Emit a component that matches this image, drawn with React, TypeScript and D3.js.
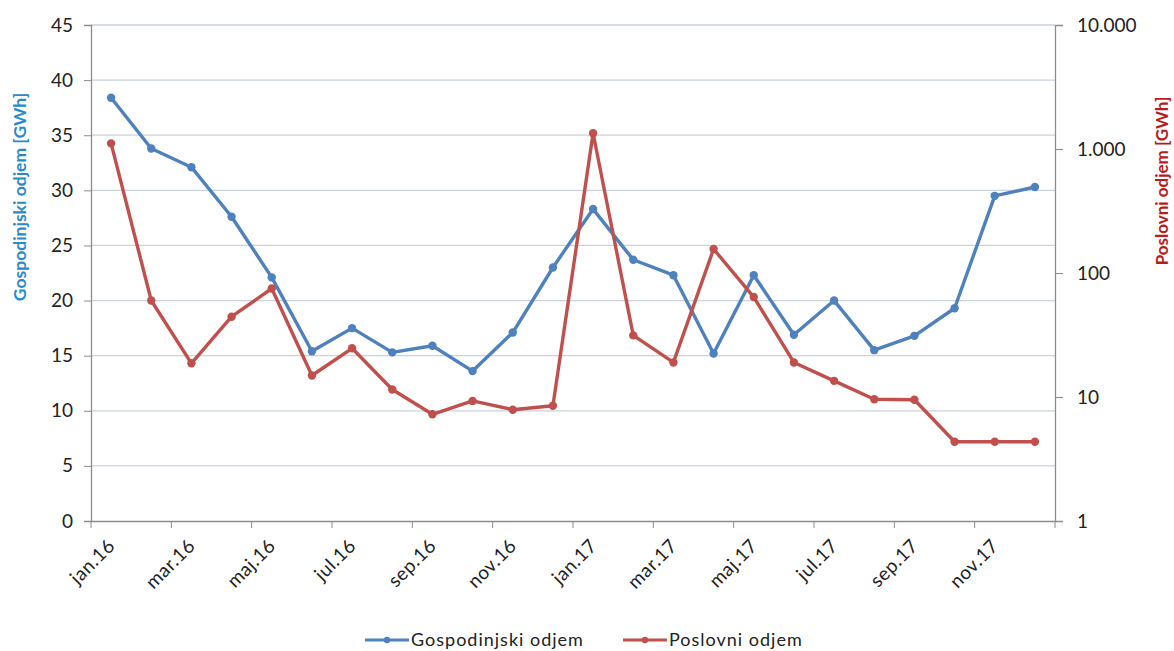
import { useRef, useEffect } from 'react';
import * as d3 from 'd3';

// monthly consumption, jan.16 - dec.17
const months = [
  'jan.16', 'feb.16', 'mar.16', 'apr.16', 'maj.16', 'jun.16',
  'jul.16', 'avg.16', 'sep.16', 'okt.16', 'nov.16', 'dec.16',
  'jan.17', 'feb.17', 'mar.17', 'apr.17', 'maj.17', 'jun.17',
  'jul.17', 'avg.17', 'sep.17', 'okt.17', 'nov.17', 'dec.17',
];

const gospodinjski = [
  38.4, 33.8, 32.1, 27.6, 22.1, 15.4, 17.5, 15.3, 15.9, 13.6, 17.1, 23.0,
  28.3, 23.7, 22.3, 15.2, 22.3, 16.9, 20.0, 15.5, 16.8, 19.3, 29.5, 30.3,
];

const poslovni = [
  1110, 60, 18.7, 44.4, 75, 14.9, 24.7, 11.5, 7.25, 9.3, 7.9, 8.5,
  1340, 31.4, 19, 156, 64, 19, 13.5, 9.6, 9.5, 4.36, 4.36, 4.36,
];

const leftTicks = [0, 5, 10, 15, 20, 25, 30, 35, 40, 45];
const rightTicks = [1, 10, 100, 1000, 10000];

const W = 1174, H = 651;
const margin = { top: 25, right: 119, bottom: 130, left: 91 };

const BLUE = '#4f81bd';
const RED = '#c0504d';
const FONT = 'Lato, "Open Sans", sans-serif';

const App = () => {
  const ref = useRef<SVGSVGElement>(null);

  useEffect(() => {
    const svg = d3.select(ref.current);
    svg.selectAll('*').remove();

    const x0 = margin.left, x1 = W - margin.right;
    const y0 = H - margin.bottom, y1 = margin.top;

    const x = d3.scaleBand<string>().domain(months).range([x0, x1]);
    const cx = (i: number) => (x(months[i]) as number) + x.bandwidth() / 2;
    const yL = d3.scaleLinear().domain([0, 45]).range([y0, y1]);
    const yR = d3.scaleLog().domain([1, 10000]).range([y0, y1]);

    // grid
    svg.append('g')
      .selectAll('line')
      .data(leftTicks.slice(1))
      .join('line')
      .attr('x1', x0).attr('x2', x1)
      .attr('y1', d => yL(d)).attr('y2', d => yL(d))
      .attr('stroke', '#c9d2de').attr('stroke-width', 1.3);

    // left axis
    const gl = svg.append('g').attr('transform', `translate(${x0},0)`)
      .call(d3.axisLeft(yL).tickValues(leftTicks).tickSize(7).tickPadding(11));
    // right axis
    const gr = svg.append('g').attr('transform', `translate(${x1},0)`)
      .call(d3.axisRight(yR).tickValues(rightTicks).tickSize(8).tickPadding(14)
        .tickFormat(d => d3.format(',')(d as number).replace(/,/g, '.')));
    // bottom axis, ticks on category boundaries every 2 months
    const tickMonths = months.filter((_, i) => i % 2 === 0);
    const gb = svg.append('g').attr('transform', `translate(0,${y0})`)
      .call(d3.axisBottom(x).tickValues(tickMonths).tickSize(0).tickPadding(0));
    gb.selectAll('.tick line').remove();
    gb.selectAll('.tick')
      .append('line')
      .attr('x1', -x.bandwidth() / 2).attr('x2', -x.bandwidth() / 2)
      .attr('y1', 0).attr('y2', 7)
      .attr('stroke', '#888');
    gb.append('line')
      .attr('x1', x1).attr('x2', x1)
      .attr('y1', 0).attr('y2', 7).attr('stroke', '#888');
    gb.selectAll('.tick text')
      .attr('text-anchor', 'end')
      .attr('dy', 0)
      .attr('transform', 'translate(5,26) rotate(-45)');

    [gl, gr, gb].forEach(g => {
      g.select('.domain').attr('stroke', '#8c8c8c').attr('stroke-width', 1.3);
      g.selectAll('.tick line').attr('stroke', '#8c8c8c');
      g.selectAll('text')
        .attr('fill', '#222')
        .style('font-family', FONT)
        .style('font-size', '19px');
    });
    gb.selectAll('text').style('letter-spacing', '0.5px');

    // axis titles
    svg.append('text')
      .attr('transform', `translate(20,${197}) rotate(-90)`)
      .attr('text-anchor', 'middle')
      .attr('dy', '0.35em')
      .attr('fill', '#2a8ac6')
      .style('font-family', FONT).style('font-size', '17.5px').style('font-weight', 'bold')
      .text('Gospodinjski odjem [GWh]');
    svg.append('text')
      .attr('transform', `translate(1162,${181}) rotate(-90)`)
      .attr('text-anchor', 'middle')
      .attr('dy', '0.35em')
      .attr('fill', '#b81d1d')
      .style('font-family', FONT).style('font-size', '17px').style('font-weight', 'bold')
      .text('Poslovni odjem [GWh]');

    // series
    const series = [
      { name: 'Gospodinjski odjem', data: gospodinjski, y: (v: number) => yL(v), color: BLUE },
      { name: 'Poslovni odjem', data: poslovni, y: (v: number) => yR(v), color: RED },
    ];

    series.forEach(s => {
      const line = d3.line<number>().x((_, i) => cx(i)).y(d => s.y(d));
      svg.append('path')
        .datum(s.data)
        .attr('fill', 'none')
        .attr('stroke', s.color)
        .attr('stroke-width', 3.4)
        .attr('stroke-linejoin', 'round')
        .attr('d', line);
      svg.append('g')
        .selectAll('circle')
        .data(s.data)
        .join('circle')
        .attr('cx', (_, i) => cx(i))
        .attr('cy', d => s.y(d))
        .attr('r', 4.2)
        .attr('fill', s.color);
    });

    // legend
    const legendX = [365, 623];
    series.forEach((s, i) => {
      const g = svg.append('g').attr('transform', `translate(${legendX[i]},640)`);
      g.append('line').attr('x1', 0).attr('x2', 44).attr('y1', 0).attr('y2', 0)
        .attr('stroke', s.color).attr('stroke-width', 3);
      g.append('circle').attr('cx', 22).attr('cy', 0).attr('r', 3.2).attr('fill', s.color);
      g.append('text').attr('x', 46).attr('y', 6)
        .attr('fill', '#222')
        .style('font-family', FONT).style('font-size', '18px').style('letter-spacing', '1px')
        .text(s.name);
    });
  }, []);

  return (
    <svg
      ref={ref}
      width={W}
      height={H}
      style={{ position: 'absolute', left: 0, top: 0, background: '#fff' }}
    />
  );
};

export default App;
